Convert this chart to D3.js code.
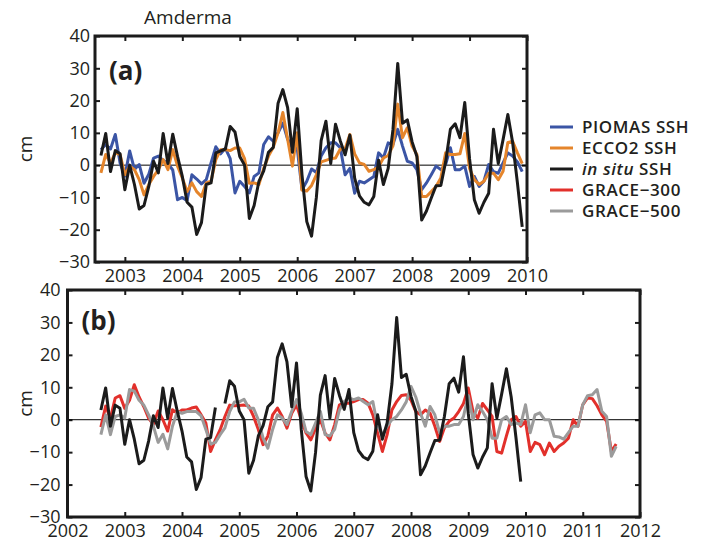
<!DOCTYPE html>
<meta charset="utf-8">
<script src="https://d3js.org/d3.v7.min.js"></script>
<style>
  body { margin: 0; background: #fff; }
  text { font-family: "Open Sans", sans-serif; fill: #231f20; }
</style>
<div id="chart"></div>
<script>

// monthly series, first value is Aug 2002
var startYear = 2002, startMonth = 8;

// in situ SSH (cm), Aug 2002 - Dec 2009, Sep 2004 missing
var insitu = [
  3, 9.8, -2, 4.5, 3.5,
  -7.6, 0, -6, -13.6, -12.5, -6.6, 1.2, -2.4, 9.8, 0.5, 9.6, 2.7,
  -3.5, -11.5, -13, -21.5, -17.8, -6, -5.5, 3.8, null, 5, 12, 10.3,
  2.7, 0, -16.5, -12.5, -5, -1.8, 4, 5.5, 19.2, 23.4, 17.8, 4,
  17.5, -3, -17.5, -22, -10, 7.6, 13.6, 0.5, 12.7, 7.5, 3.2, 9.3,
  -4, -9.5, -11.5, -12.3, -9.7, 1.5, -6, -1, 11, 31.5, 13, 14,
  7.2, 2.7, -17, -14.2, -10.2, -6.4, -6.3, 1, 11.1, 12.8, 8.5, 19.4,
  2, -10.7, -14.9, -11.5, -8.7, 11.1, 0.5, 7.9, 15.7, 7, -5.5, -19.1
];

// PIOMAS SSH, Aug 2002 - Dec 2009
var piomas = [
  4.8, 6.4, 5, 9.5, 0.7,
  -3.4, 4.4, -1.3, 0.2, -5.6, -2.8, 2.2, 2.8, 1.5, 0.5, -1.5, -10.7,
  -10, -11, -3, -4.3, -5.8, -4.5, 0.7, 5.7, 3.5, 5.2, 2, -8.6,
  -5, -6.6, -8.6, -3.5, -2.4, 6.4, 8.8, 7.4, 10, 13, 8, 5.5,
  5.3, -7.6, -5, -1.2, -2.3, 2.8, 5.4, 6.9, 6.9, 5.4, -3, -1,
  -8.7, -5, -5.5, -4.5, -3.5, 3.8, 2.2, 6.9, 6.4, 11.1, 5.9, 1.2,
  0.7, -1.4, -7.6, -5.5, -3, -0.3, -1.4, 0.2, 5.4, -1.4, -1.4, -0.3,
  -6.6, -3.5, -6.6, -5, 0.2, -2, -2.5, 0.7, 3.8, 2.8, 1, -2
];

// ECCO2 SSH, Aug 2002 - Dec 2009
var ecco2 = [
  -2.4, 3.3, 0.7, 3.8, 3.3,
  -3, -0.3, -1.4, -4.5, -9.2, -6, -3.5, -1.4, 1.7, -1.4, 4.8, -0.3,
  -4, -8.2, -5.5, -8.2, -9.7, -5.5, -5, 1.7, 4.8, 4.8, 4.5, 5.3,
  5.3, 2, -5.6, -5.5, -6, -1, 2.8, 5.5, 10, 16.3, 8, -0.3,
  10, -7.7, -8, -6.3, -3, 1, 1.5, 2, 2.2, 5, 5, 9.5,
  3.5, 0.7, 0.2, -1.9, -1.4, -0.5, 2.2, 3, 6, 18.9, 8.5, 11.6,
  5.9, 3.3, -9.7, -9.7, -8.2, -6.6, -4, 3.8, 3.3, 3.3, 3.5, 9.8,
  -1, -4.5, -6, -5, -2.5, -2.5, -4.5, -1.9, 7, 7.4, 3.8, 0.5
];

// GRACE-300, Aug 2002 - Aug 2011
var grace300 = [
  -2.3, 4.2, 0.5, 6.7, 7.4,
  3.5, 6, 10.8, 7, 4, 0.5, -1.5, 2.7, 0, -3.5, 3.1, 2,
  3, 3, 3.6, 3.9, 1.5, -1, -9.8, -6.2, -3.1, 1, 4.5, 4.3,
  4.4, 4.5, 4.2, 1, -3, -7.7, -5, 1.5, 3.6, 1, -2.6, 2,
  4.6, 0, -4.1, -6.2, -2.6, 0, -4.1, -6.2, -1.5, 4.6, 5.1, 5.1,
  5.6, 6.2, 6.2, 5.1, 1.5, -4.1, -9.8, -4.6, 3, 5.6, 7.5, 7.7,
  6, 2.5, 1.5, 3, 2, -2, -6.7, -2.5, -0.5, 0.5, 2.5, 5,
  9.8, 2.5, 0.5, 5, 3, 1, -9.8, -10.3, -5, 0, 1, -2,
  -0.5, -9.8, -7, -7.7, -10.8, -7.2, -9.8, -8.2, -7.2, -5.7, 0, -2,
  4.6, 6.7, 6.5, 4.3, 1.5, -0.5, -9.8, -7.5
];

// GRACE-500, Aug 2002 - Aug 2011
var grace500 = [
  -4.6, 1.5, -4.6, 1, 1.5,
  0.5, 9.3, 8.8, 6, 4.5, 1.5, -2, -7, -4.5, -9, -2, 2.5,
  2, 2.5, 2.5, 2.5, 1.2, -3, -7.5, -7, -4.6, -2.5, 2.5, 5.5,
  5.5, 6.3, 3.6, 3.5, 0, -5.7, -8.8, -3, 1.5, 0.5, -1.5, 2.6,
  6.2, 2, -3.6, -4.6, -1, 2.6, -4.6, -5, -3, 3, 5.6, 6.7,
  6.2, 6.7, 5.6, 4.6, 5.6, -2, -4.6, -2, 0, 1, 3, 5.5,
  10.3, 7, 2, -2, 4.1, 1.5, -4, -2, -2, -1.5, -1.5, 1,
  7.5, 0, 4.6, 2.5, 0, -5.7, -5.7, 0, 1, -1.5, -1, -1.5,
  4.6, -4, 1.5, 2.1, 0, 0, -5.1, -5.3, -6, -4, -2, -2,
  4.6, 7.4, 7.7, 9.3, 2.6, 1, -11.3, -8.2
];

var yTicks = [-30, -20, -10, 0, 10, 20, 30, 40];
var yearTicksA = [2003, 2004, 2005, 2006, 2007, 2008, 2009, 2010];
var yearTicksB = [2002, 2003, 2004, 2005, 2006, 2007, 2008, 2009, 2010, 2011, 2012];

var legendLabels = ["PIOMAS SSH", "ECCO2 SSH", "in situ SSH", "GRACE\u2212300", "GRACE\u2212500"];
var legendColors = ["#3b55a5", "#e5852b", "#1b1b1b", "#e2302b", "#9b9b9b"];

var svg = d3.select("#chart")
  .append("svg")
  .attr("width", 705)
  .attr("height", 542);

function toPoints(values) {
  return values.map(function (v, i) {
    return { t: startYear + (startMonth - 1 + i) / 12, v: v };
  });
}

function drawPanel(p) {
  var x = d3.scaleLinear().domain(p.xDomain).range([p.left, p.right]);
  var y = d3.scaleLinear().domain([-30, 40]).range([p.bottom, p.top]);
  var g = svg.append("g");

  // ticks on all four sides, pointing in
  g.append("g")
    .attr("transform", "translate(0," + p.bottom + ")")
    .call(d3.axisBottom(x).tickValues(p.xTicks).tickFormat(d3.format("d")).tickSize(-5).tickPadding(p.xPad))
    .call(styleAxis);
  g.append("g")
    .attr("transform", "translate(0," + p.top + ")")
    .call(d3.axisTop(x).tickValues(p.xTicks).tickFormat("").tickSize(-5))
    .call(styleAxis);
  g.append("g")
    .attr("transform", "translate(" + p.left + ",0)")
    .call(d3.axisLeft(y).tickValues(yTicks).tickSize(-5).tickPadding(p.yPad))
    .call(styleAxis);
  g.append("g")
    .attr("transform", "translate(" + p.right + ",0)")
    .call(d3.axisRight(y).tickValues(yTicks).tickFormat("").tickSize(-5))
    .call(styleAxis);

  // zero line
  g.append("line")
    .attr("x1", p.left).attr("x2", p.right)
    .attr("y1", y(0)).attr("y2", y(0))
    .attr("stroke", "#000").attr("stroke-width", 1);

  p.series.forEach(function (s) {
    var pts = toPoints(s.values);
    if (s.connect) pts = pts.filter(function (d) { return d.v !== null; });
    g.append("path")
      .datum(pts)
      .attr("fill", "none")
      .attr("stroke", s.color)
      .attr("stroke-width", 3)
      .attr("stroke-linejoin", "round")
      .attr("d", d3.line()
        .defined(function (d) { return d.v !== null; })
        .x(function (d) { return x(d.t); })
        .y(function (d) { return y(d.v); }));
  });

  // box
  g.append("rect")
    .attr("x", p.left).attr("y", p.top)
    .attr("width", p.right - p.left).attr("height", p.bottom - p.top)
    .attr("fill", "none").attr("stroke", "#1b1b1b").attr("stroke-width", 3);

  g.append("text")
    .attr("x", p.left + p.tagDx).attr("y", p.top + p.tagDy)
    .attr("font-size", 26).attr("font-weight", 700)
    .text(p.tag);

  g.append("text")
    .attr("transform", "translate(32," + y(5) + ") rotate(-90)")
    .attr("text-anchor", "middle")
    .attr("font-size", 19)
    .text("cm");
}

function styleAxis(sel) {
  sel.select(".domain").remove();
  sel.selectAll(".tick line").attr("stroke", "#1b1b1b").attr("stroke-width", 2);
  sel.selectAll(".tick text").attr("font-size", 18).attr("fill", "#231f20")
    .style("font-family", "'Open Sans', sans-serif");
}

drawPanel({
  left: 95, right: 527, top: 36, bottom: 262,
  xDomain: [2002.48, 2010], xTicks: yearTicksA, xPad: 7, yPad: 5,
  tag: "(a)", tagDx: 14, tagDy: 44,
  series: [
    { values: piomas, color: legendColors[0] },
    { values: ecco2, color: legendColors[1] },
    { values: insitu, color: legendColors[2], connect: true }
  ]
});

drawPanel({
  left: 67.5, right: 640, top: 290, bottom: 517,
  xDomain: [2002, 2012], xTicks: yearTicksB, xPad: 7.5, yPad: 7,
  tag: "(b)", tagDx: 14, tagDy: 40,
  series: [
    { values: grace300, color: legendColors[3] },
    { values: grace500, color: legendColors[4] },
    { values: insitu, color: legendColors[2] }
  ]
});

svg.append("text")
  .attr("x", 188).attr("y", 24)
  .attr("text-anchor", "middle")
  .attr("font-size", 19)
  .text("Amderma");

// legend
var legend = svg.append("g");
legendLabels.forEach(function (label, i) {
  var yy = 127 + i * 21;
  legend.append("line")
    .attr("x1", 550).attr("x2", 573).attr("y1", yy).attr("y2", yy)
    .attr("stroke", legendColors[i]).attr("stroke-width", 3);
  var t = legend.append("text")
    .attr("x", 582).attr("y", yy + 6)
    .attr("font-size", 17).attr("font-weight", 600)
    .attr("letter-spacing", 0.6);
  if (label.indexOf("in situ") === 0) {
    t.append("tspan").attr("font-style", "italic").text("in situ");
    t.append("tspan").text(" SSH");
  } else {
    t.text(label);
  }
});
</script>
